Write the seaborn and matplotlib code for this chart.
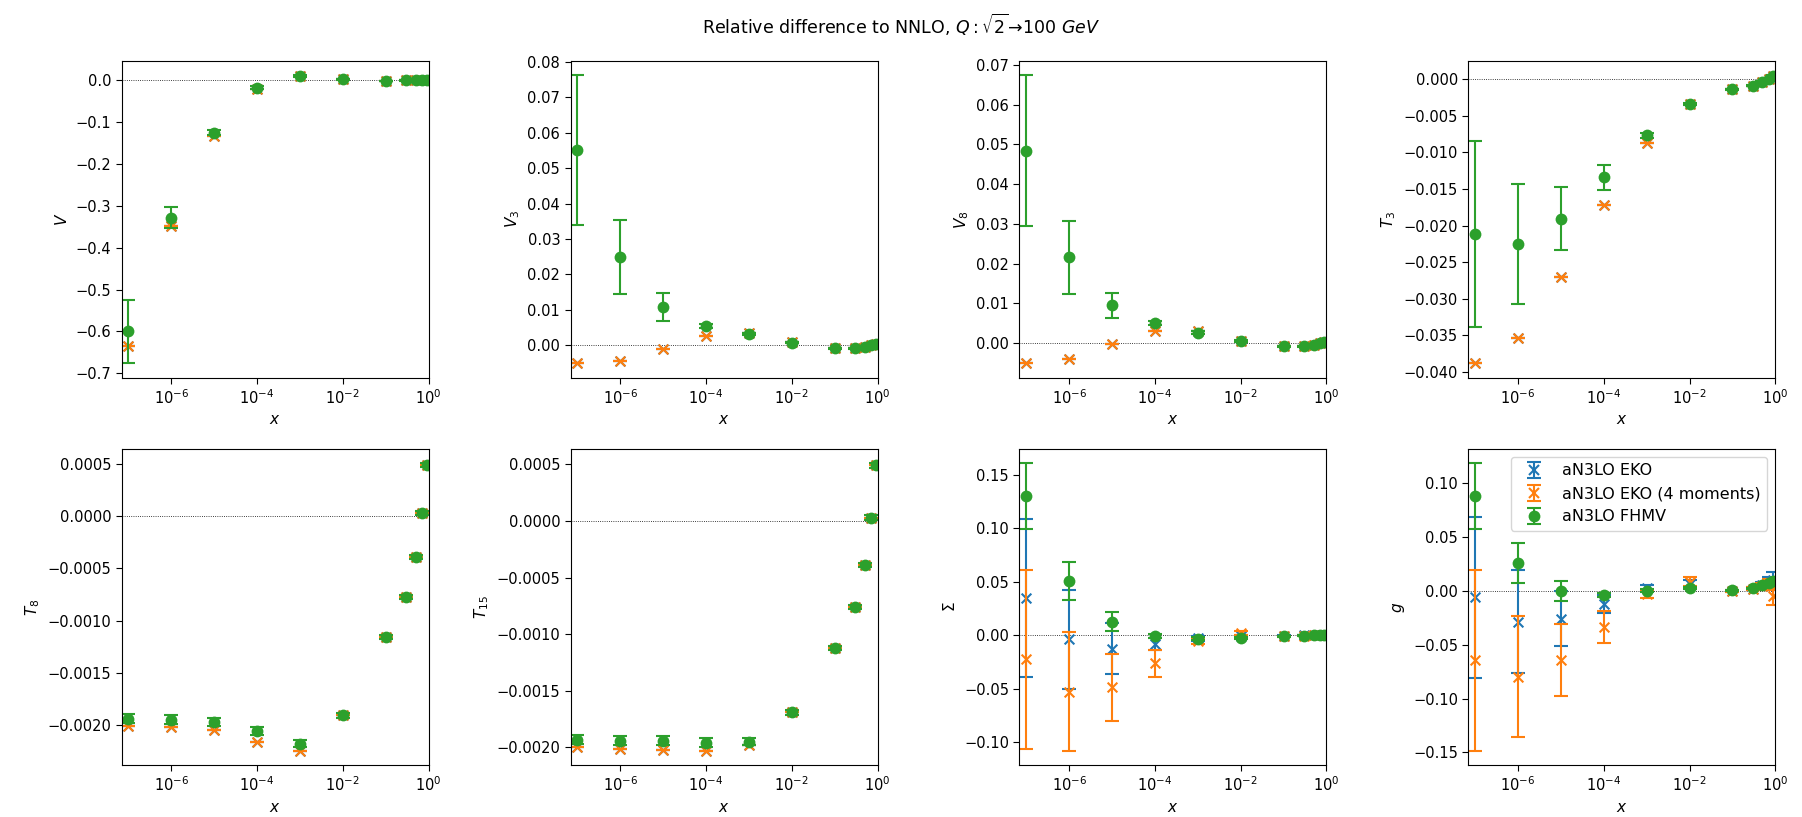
import numpy as np
import matplotlib
matplotlib.use("Agg")
import matplotlib.pyplot as plt
import seaborn as sns
from matplotlib.lines import Line2D
from matplotlib.legend_handler import HandlerTuple

# x grid of the evolved PDFs
x_grid = [1e-7, 1e-6, 1e-5, 1e-4, 1e-3, 1e-2, 0.1, 0.3, 0.5, 0.7, 0.9]

# ---- non-singlet distributions: FHMV and EKO (EKO identical for both moment choices)
fhmv_V = [-0.600, -0.328, -0.125, -0.017, 0.010, 0.003, -0.001, 0.000, 0.000, 0.000, 0.000]
fhmv_V_err = [0.076, 0.026, 0.006, 0.003, 0.002, 0.001, 0.0005, 0.0003, 0.0003, 0.0003, 0.0003]
eko_V = [-0.636, -0.347, -0.133, -0.020, 0.010, 0.003, -0.001, 0.000, 0.000, 0.000, 0.000]

fhmv_V3 = [0.0550, 0.0249, 0.0108, 0.0055, 0.0031, 0.0008, -0.0008, -0.0008, -0.0005, 0.0000, 0.0003]
fhmv_V3_err = [0.0211, 0.0105, 0.0039, 0.0006, 0.0003, 0.0002, 0.0001, 0.0001, 0.0001, 0.0001, 0.0001]
eko_V3 = [-0.0050, -0.0045, -0.0009, 0.0027, 0.0035, 0.0010, -0.0008, -0.0008, -0.0005, 0.0000, 0.0003]

fhmv_V8 = [0.0484, 0.0216, 0.0095, 0.0050, 0.0026, 0.0005, -0.0009, -0.0009, -0.0005, -0.0001, 0.0003]
fhmv_V8_err = [0.0190, 0.0092, 0.0031, 0.0005, 0.0003, 0.0002, 0.0001, 0.0001, 0.0001, 0.0001, 0.0001]
eko_V8 = [-0.0051, -0.0040, -0.0003, 0.0030, 0.0030, 0.0006, -0.0009, -0.0009, -0.0005, -0.0001, 0.0003]

fhmv_T3 = [-0.0212, -0.0225, -0.0191, -0.0134, -0.0077, -0.0034, -0.0014, -0.0009, -0.0004, 0.0000, 0.0004]
fhmv_T3_err = [0.0127, 0.0082, 0.0043, 0.0017, 0.0004, 0.0002, 0.0001, 0.0001, 0.0001, 0.0001, 0.0001]
eko_T3 = [-0.0388, -0.0354, -0.0271, -0.0172, -0.0087, -0.0034, -0.0014, -0.0009, -0.0004, 0.0000, 0.0004]

fhmv_T8 = [-0.00194, -0.00195, -0.00197, -0.00206, -0.00218, -0.00191, -0.00116, -0.00077, -0.00039, 0.00003, 0.00049]
fhmv_T8_err = [0.00004, 0.00004, 0.00004, 0.00004, 0.00003, 0.00002, 0.00002, 0.00002, 0.00002, 0.00002, 0.00002]
eko_T8 = [-0.00201, -0.00202, -0.00205, -0.00216, -0.00225, -0.00191, -0.00116, -0.00077, -0.00039, 0.00003, 0.00049]

fhmv_T15 = [-0.00193, -0.00194, -0.00194, -0.00196, -0.00195, -0.00169, -0.00112, -0.00076, -0.00039, 0.00003, 0.00049]
fhmv_T15_err = [0.00004, 0.00004, 0.00004, 0.00004, 0.00003, 0.00002, 0.00002, 0.00002, 0.00002, 0.00002, 0.00002]
eko_T15 = [-0.00200, -0.00201, -0.00202, -0.00203, -0.00198, -0.00169, -0.00112, -0.00076, -0.00039, 0.00003, 0.00049]

# ---- singlet sector
fhmv_S = [0.1301, 0.0505, 0.0125, -0.0009, -0.0034, -0.0030, -0.0010, -0.0005, 0.0000, 0.0002, 0.0005]
fhmv_S_err = [0.0306, 0.0181, 0.0087, 0.0020, 0.0015, 0.0010, 0.0005, 0.0003, 0.0003, 0.0003, 0.0003]
eko_S = [0.0346, -0.0037, -0.0125, -0.0084, -0.0030, -0.0010, -0.0005, 0.0000, 0.0000, 0.0000, 0.0000]
eko_S_err = [0.0736, 0.0462, 0.0237, 0.0053, 0.0020, 0.0015, 0.0005, 0.0003, 0.0003, 0.0003, 0.0003]
eko4_S = [-0.0225, -0.0527, -0.0487, -0.0262, -0.0053, 0.0019, -0.0010, -0.0005, 0.0000, 0.0000, 0.0000]
eko4_S_err = [0.0836, 0.0554, 0.0312, 0.0128, 0.0025, 0.0020, 0.0005, 0.0003, 0.0003, 0.0003, 0.0003]

fhmv_g = [0.0879, 0.0260, 0.0000, -0.0040, 0.0000, 0.0022, 0.0006, 0.0025, 0.0050, 0.0074, 0.0093]
fhmv_g_err = [0.0305, 0.0184, 0.0092, 0.0020, 0.0015, 0.0010, 0.0005, 0.0005, 0.0005, 0.0005, 0.0005]
eko_g = [-0.0062, -0.0288, -0.0260, -0.0121, 0.0025, 0.0060, 0.0000, 0.0020, 0.0050, 0.0080, 0.0100]
eko_g_err = [0.0748, 0.0477, 0.0257, 0.0085, 0.0030, 0.0040, 0.0010, 0.0015, 0.0030, 0.0050, 0.0070]
eko4_g = [-0.0647, -0.0796, -0.0641, -0.0337, -0.0030, 0.0084, 0.0000, 0.0020, 0.0040, 0.0060, -0.0053]
eko4_g_err = [0.0839, 0.0565, 0.0334, 0.0150, 0.0040, 0.0043, 0.0010, 0.0015, 0.0030, 0.0050, 0.0083]

zeros = [0.0] * len(x_grid)

series_labels = ["aN3LO EKO", "aN3LO EKO (4 moments)", "aN3LO FHMV"]
series_colors = ["#1f77b4", "#ff7f0e", "#2ca02c"]
series_markers = ["x", "x", "o"]
series_msizes = [7, 7, 8.5]

panel_labels = ["$V$", "$V_3$", "$V_8$", "$T_3$", "$T_8$", "$T_{15}$", r"$\Sigma$", "$g$"]
panel_data = [
    [(eko_V, zeros), (eko_V, zeros), (fhmv_V, fhmv_V_err)],
    [(eko_V3, zeros), (eko_V3, zeros), (fhmv_V3, fhmv_V3_err)],
    [(eko_V8, zeros), (eko_V8, zeros), (fhmv_V8, fhmv_V8_err)],
    [(eko_T3, zeros), (eko_T3, zeros), (fhmv_T3, fhmv_T3_err)],
    [(eko_T8, zeros), (eko_T8, zeros), (fhmv_T8, fhmv_T8_err)],
    [(eko_T15, zeros), (eko_T15, zeros), (fhmv_T15, fhmv_T15_err)],
    [(eko_S, eko_S_err), (eko4_S, eko4_S_err), (fhmv_S, fhmv_S_err)],
    [(eko_g, eko_g_err), (eko4_g, eko4_g_err), (fhmv_g, fhmv_g_err)],
]

sns.set_theme(style="ticks", rc={
    "axes.edgecolor": "black",
    "axes.labelcolor": "black",
    "text.color": "black",
    "xtick.color": "black",
    "ytick.color": "black",
    "axes.linewidth": 0.8,
    "xtick.major.size": 4.0,
    "ytick.major.size": 4.0,
    "xtick.major.width": 0.8,
    "ytick.major.width": 0.8,
    "xtick.minor.size": 0,
    "ytick.minor.size": 0,
    "xtick.labelsize": 10.5,
    "ytick.labelsize": 10.5,
    "axes.labelsize": 11,
    "legend.fontsize": 11.5,
    "lines.solid_capstyle": "projecting",
})
plt.rcParams["font.family"] = ["DejaVu Sans"]

fig, axes = plt.subplots(2, 4, figsize=(18.02, 8.17), dpi=100)
fig.subplots_adjust(left=0.0675, right=0.9852, top=0.9253, bottom=0.0633,
                    wspace=0.4625, hspace=0.225)

legend_handles = []
for k, ax in enumerate(axes.flat):
    ax.axhline(0.0, color="black", ls=":", lw=0.6, zorder=1)
    for j, (vals, errs) in enumerate(panel_data[k]):
        z = 2 + 0.2 * j
        eb = ax.errorbar(x_grid, vals, yerr=errs, fmt="none",
                         ecolor=series_colors[j], elinewidth=1.5,
                         capsize=5, capthick=1.5, zorder=z)
        if series_markers[j] == "o":
            sns.scatterplot(x=x_grid, y=vals, marker="o", color=series_colors[j],
                            s=series_msizes[j] ** 2, edgecolor=series_colors[j],
                            linewidth=0, ax=ax, legend=False, zorder=z + 0.1)
        else:
            sns.scatterplot(x=x_grid, y=vals, marker="x", color=series_colors[j],
                            s=series_msizes[j] ** 2, linewidth=1.5,
                            ax=ax, legend=False, zorder=z + 0.1)
        if k == 7:
            mk = Line2D([], [], ls="none", marker=series_markers[j],
                        color=series_colors[j], ms=series_msizes[j],
                        mew=1.5 if series_markers[j] == "x" else 0)
            legend_handles.append((eb, mk))
    ax.set_xscale("log")
    ax.set_xlim(10 ** -7.16, 1.0)
    ax.set_xticks([1e-6, 1e-4, 1e-2, 1e0])
    ax.minorticks_off()
    ax.set_xlabel("$x$")
    ax.set_ylabel(panel_labels[k])

axes.flat[7].legend(legend_handles, series_labels, loc="upper right",
                    handler_map={tuple: HandlerTuple(ndivide=1)})

fig.suptitle(r"Relative difference to NNLO, $Q: \sqrt{2}\!\to\!100\ GeV$",
             fontsize=12.5, y=0.985, va="top")

fig.savefig("out.png", dpi=100)
